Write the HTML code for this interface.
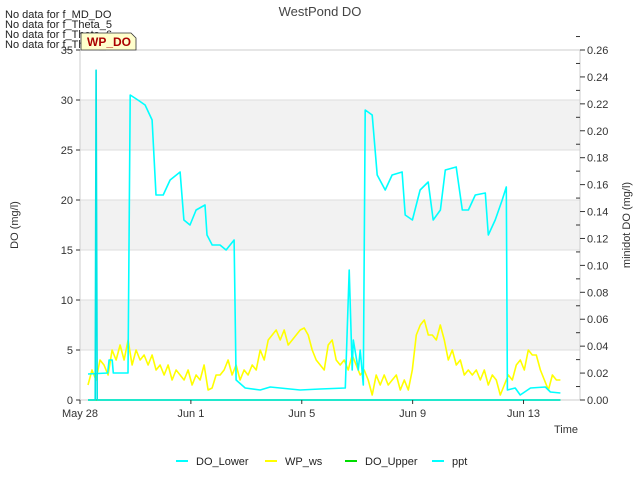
<!DOCTYPE html>
<html><head><meta charset="utf-8"><style>
body{margin:0;background:#fff;font-family:"Liberation Sans","DejaVu Sans",sans-serif;}
svg text{font-family:"Liberation Sans","DejaVu Sans",sans-serif;}
</style></head><body>
<svg id="chart" width="640" height="480" xmlns="http://www.w3.org/2000/svg">
<text x="320" y="16" text-anchor="middle" font-size="13" fill="#444">WestPond DO</text>
<g id="bands"></g>
<g id="grid"></g>
<rect x="80" y="50" width="500" height="350" fill="none" stroke="#ccc"/>
<g id="series"></g>
<g id="axes"></g>
<text x="18" y="225" transform="rotate(-90 18 225)" text-anchor="middle" font-size="11" fill="#333">DO (mg/l)</text>
<text x="630" y="225" transform="rotate(-90 630 225)" text-anchor="middle" font-size="11" fill="#333">minidot DO (mg/l)</text>
<text x="578" y="433" text-anchor="end" font-size="11" fill="#333">Time</text>
<g font-size="11" fill="#222">
<text x="5" y="18">No data for f_MD_DO</text>
<text x="5" y="28">No data for f_Theta_5</text>
<text x="5" y="38">No data for f_Theta_6</text>
<text x="5" y="48">No data for f_Theta_7</text>
</g>
<g>
<path d="M81,33 L131,33 L136,38 L136,50 L81,50 Z" fill="#ffffcc" stroke="#333" stroke-width="0.8"/>
<text x="87" y="46" font-size="12" font-weight="bold" fill="#a00">WP_DO</text>
</g>
<g id="legend" font-size="11" fill="#222"></g>
</svg>
<script>
const xTickLabels=["May 28","Jun 1","Jun 5","Jun 9","Jun 13"];
const xTickDays=[0,4,8,12,16];
const yTicks=[0,5,10,15,20,25,30,35];
const y2Ticks=[0,0.02,0.04,0.06,0.08,0.10,0.12,0.14,0.16,0.18,0.20,0.22,0.24,0.26];
const doLowerDays=[0.29,1.0,1.05,1.16,1.2,1.73,1.81,2.09,2.35,2.60,2.74,3.00,3.25,3.61,3.75,3.97,4.19,4.51,4.58,4.77,5.05,5.27,5.56,5.63,5.96,6.50,6.86,7.58,7.94,8.66,9.57,9.71,9.82,9.86,10.04,10.11,10.22,10.29,10.54,10.72,11.01,11.26,11.62,11.73,11.99,12.27,12.56,12.74,13.00,13.18,13.57,13.79,14.01,14.26,14.62,14.73,14.98,15.23,15.38,15.42,15.70,15.88,16.25,16.79,16.97,17.33];
const doLowerVals=[2.6,2.7,4,4,2.7,2.7,30.5,30,29.5,28,20.5,20.5,22,22.8,18,17.5,19,19.5,16.5,15.5,15.5,15,16,2,1.2,1,1.3,1.1,1,1.1,1.2,13,3,6,3,5,1.5,29,28.5,22.5,21,22.5,22.8,18.5,18,21,21.8,18,19,23,23.3,19,19,20.5,20.7,16.5,18,20,21.3,1,1.2,0.5,1.2,1.3,0.8,0.7];
const wpStartDay=0.29, wpStepDays=0.1444;
const wpVals=[1.5,3,2,4,3.5,2.5,5,4,5.5,4,6,3.5,5,4,4.5,3.5,4.5,3,3.5,2.5,3.5,2,3,2.5,2,3,1.5,2.5,2,3.5,1,1.2,2.5,2.5,3,4,2.5,3.5,2,3,2.5,3.5,3,5,4,6,6.5,7,6,7,5.5,6,6.5,7,7.2,6.5,5,4,3.5,3,5.5,6,4,3.5,4,3,4.5,3.5,2.5,3,2,0.5,2.5,1.5,2.5,1.5,2,2.5,1,2,1,3,6.5,7.5,8,6.5,6.5,6,7.5,6,4,5,3.5,4,2.5,3,2.5,3,2,3,1.5,2.5,2,0.5,1.5,2.5,2,3.5,4,3,5,4.5,4.5,3,2,1,2.5,2,2];
const pptDays=[0.29,0.55,0.58,0.62,17.33];
const pptVals=[0,0,0.245,0,0];
const doUpperDays=[0.29,17.33];
const doUpperVals=[0,0];

const NS="http://www.w3.org/2000/svg";
const X=d=>80+d*27.72, Y=v=>400-v*10, Y2=v=>400-v*350/0.26;
function mk(t,a,p){const e=document.createElementNS(NS,t);for(const k in a)e.setAttribute(k,a[k]);p.appendChild(e);return e;}
const bands=document.getElementById('bands'),grid=document.getElementById('grid'),ser=document.getElementById('series'),ax=document.getElementById('axes');
for(let i=0;i<yTicks.length-1;i++){
  if(i%2===1){const r=mk('rect',{x:80,y:Y(yTicks[i+1]),width:500,height:Y(yTicks[i])-Y(yTicks[i+1]),fill:'#f2f2f2'},bands);
  
  }
}
yTicks.forEach(v=>{
  const l=mk('line',{x1:80,x2:580,y1:Y(v),y2:Y(v),stroke:'#ddd'},grid);
  
  
  mk('line',{x1:76,x2:80,y1:Y(v),y2:Y(v),stroke:'#333'},ax);
  const t=mk('text',{x:73,y:Y(v)+4,'text-anchor':'end','font-size':11,fill:'#333'},ax);t.textContent=v;
  
  
});
y2Ticks.forEach(v=>{
  mk('line',{x1:580,x2:585,y1:Y2(v),y2:Y2(v),stroke:'#333'},ax);
  mk('line',{x1:576,x2:580,y1:Y2(v+0.01),y2:Y2(v+0.01),stroke:'#333'},ax);
  const t=mk('text',{x:587,y:Y2(v)+4,'font-size':11,fill:'#333'},ax);t.textContent=v.toFixed(2);
  
  
});
xTickDays.forEach((d,i)=>{
  mk('line',{x1:X(d),x2:X(d),y1:400,y2:404,stroke:'#333'},ax);
  const t=mk('text',{x:X(d),y:417,'text-anchor':'middle','font-size':11,fill:'#333'},ax);t.textContent=xTickLabels[i];
  
  
});
function line(xs,ys,yf,col,name){
  const pts=xs.map((d,i)=>X(d).toFixed(1)+','+yf(ys[i]).toFixed(1)).join(' ');
  const p=mk('polyline',{points:pts,fill:'none',stroke:col,'stroke-width':1.6,'stroke-linejoin':'round'},ser);
  
  
}
const wpDays=wpVals.map((v,i)=>wpStartDay+i*wpStepDays);
line(wpDays,wpVals,Y,'#ffff00','wp-ws-line');
line(doUpperDays,doUpperVals,Y,'#00dd00','do-upper-line');
line(doLowerDays,doLowerVals,Y,'#00ffff','do-lower-line');
line(pptDays,pptVals,Y2,'#00e5e5','ppt-line');
const leg=document.getElementById('legend');
[['DO_Lower','#00ffff',176],['WP_ws','#ffff00',265],['DO_Upper','#00dd00',345],['ppt','#00ffff',432]].forEach(([n,c,x])=>{
  const g=mk('g',{},leg);
  
  
  mk('line',{x1:x,x2:x+12,y1:461,y2:461,stroke:c,'stroke-width':2},g);
  const t=mk('text',{x:x+20,y:465},g);t.textContent=n;
});
</script>
</body></html>
